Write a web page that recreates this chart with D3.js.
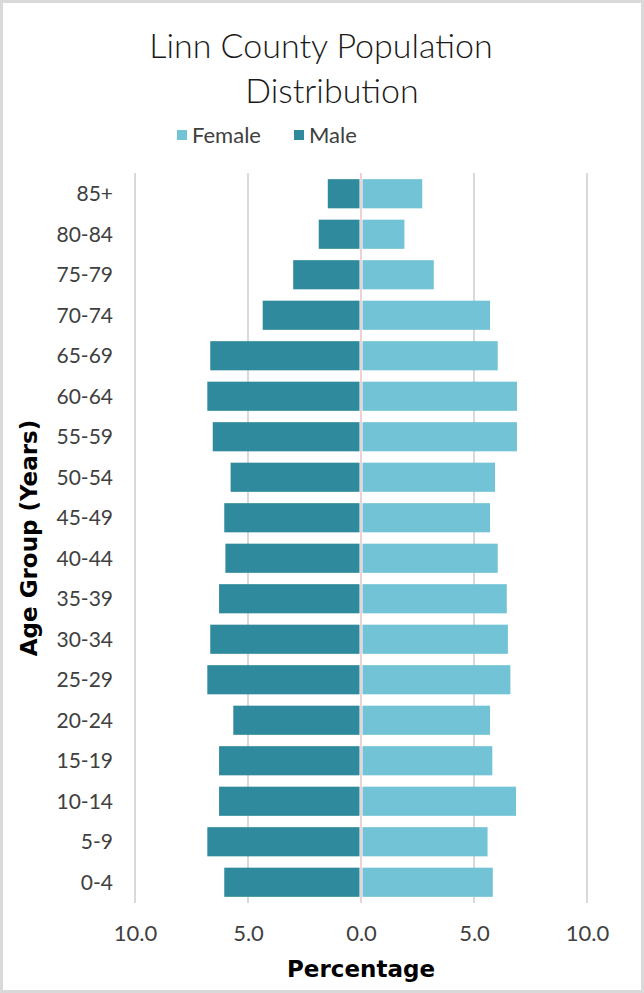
<!DOCTYPE html>
<html>
<head>
<meta charset="utf-8">
<script src="https://cdn.jsdelivr.net/npm/d3@7"></script>
<style>
  html, body { margin: 0; padding: 0; background: #fff; }
  svg { display: block; }
  text { font-family: "Lato", "Noto Sans", sans-serif; }
</style>
</head>
<body>
<svg id="chart" width="644" height="993"></svg>
<script>
const ageGroups = ["85+","80-84","75-79","70-74","65-69","60-64","55-59","50-54","45-49","40-44","35-39","30-34","25-29","20-24","15-19","10-14","5-9","0-4"];
const maleValues = [1.47,1.87,3.0,4.35,6.67,6.8,6.56,5.77,6.05,6.0,6.28,6.67,6.8,5.65,6.28,6.28,6.8,6.05];
const femaleValues = [2.71,1.92,3.22,5.71,6.05,6.9,6.9,5.93,5.71,6.05,6.45,6.5,6.61,5.71,5.81,6.86,5.6,5.83];
const xTicks = [-10,-5,0,5,10];
const seriesNames = ["Female","Male"];
const colors = {Female: "#72c3d6", Male: "#2e8a9c"};

const svg = d3.select("#chart");
const W = 644, H = 993;

// frame
svg.append("rect").attr("x",0).attr("y",0).attr("width",W).attr("height",H).attr("fill","#d9d9d9");
svg.append("rect").attr("x",3).attr("y",3).attr("width",W-6).attr("height",H-6).attr("fill","#fff");

const x = d3.scaleLinear().domain([-10,10]).range([135,587]);
const y = d3.scaleBand().domain(ageGroups).range([173.5,902.5]).paddingInner(0.28).paddingOuter(0.14);

// gridlines
const grid = svg.append("g");
grid.selectAll("line").data(xTicks).join("line")
  .attr("x1", d => x(d)).attr("x2", d => x(d))
  .attr("y1", 173).attr("y2", 903)
  .attr("stroke", d => d === 0 ? "#ebd3d3" : "#d9d9d9")
  .attr("stroke-width", 2);

// bars
const rows = ageGroups.map((g,i) => ({g, m: maleValues[i], f: femaleValues[i]}));
svg.append("g").selectAll("rect").data(rows).join("rect")
  .attr("x", d => x(-d.m)).attr("y", d => y(d.g))
  .attr("width", d => x(0) - 1.5 - x(-d.m)).attr("height", y.bandwidth())
  .attr("fill", colors.Male);
svg.append("g").selectAll("rect").data(rows).join("rect")
  .attr("x", x(0) + 1.5).attr("y", d => y(d.g))
  .attr("width", d => x(d.f) - x(0) - 1.5).attr("height", y.bandwidth())
  .attr("fill", colors.Female);

// x axis labels
const xAxis = d3.axisBottom(x).tickValues(xTicks).tickFormat(d => Math.abs(d).toFixed(1)).tickSize(0).tickPadding(0);
const xg = svg.append("g").attr("transform","translate(0,925)").call(xAxis);
xg.select(".domain").remove();
xg.selectAll("text").attr("fill","#404040").style("font-size","22px").style("font-family","Lato, sans-serif").attr("dy","0.71em");

// y axis labels
const yAxis = d3.axisLeft(y).tickSize(0).tickPadding(0);
const yg = svg.append("g").attr("transform","translate(113,0)").call(yAxis);
yg.select(".domain").remove();
yg.selectAll("text").attr("fill","#404040").style("font-size","21px").style("font-family","Lato, sans-serif").attr("dy","0.36em");

// title
svg.append("text").attr("x",321).attr("y",58).attr("text-anchor","middle")
  .style("font-size","34px").style("font-weight","300").attr("fill","#1a1a1a")
  .text("Linn County Population");
svg.append("text").attr("x",332).attr("y",103).attr("text-anchor","middle")
  .style("font-size","34px").style("font-weight","300").attr("fill","#1a1a1a")
  .text("Distribution");

// legend
const legX = {Female: 177, Male: 294};
const leg = svg.append("g");
seriesNames.forEach(n => {
  leg.append("rect").attr("x", legX[n]).attr("y",130).attr("width",10).attr("height",10).attr("fill",colors[n]);
  leg.append("text").attr("x", legX[n]+15).attr("y",143).style("font-size","22px").attr("fill","#404040").text(n);
});

// axis titles
svg.append("text").attr("x",361).attr("y",977).attr("text-anchor","middle")
  .style("font-family","'DejaVu Sans', sans-serif")
  .style("font-size","23px").style("font-weight","bold").attr("fill","#000").text("Percentage");
svg.append("text").attr("transform","translate(37,538) rotate(-90)").attr("text-anchor","middle")
  .style("font-family","'DejaVu Sans', sans-serif")
  .style("font-size","23px").style("font-weight","bold").attr("fill","#000").text("Age Group (Years)");
</script>
</body>
</html>
